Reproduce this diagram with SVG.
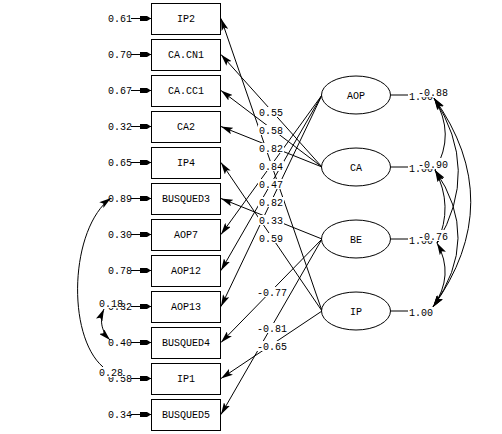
<svg xmlns="http://www.w3.org/2000/svg" width="502" height="434" viewBox="0 0 502 434">
<style>
text{font-family:"Liberation Mono","DejaVu Sans Mono",monospace;font-size:10px;fill:#000}
.box{fill:#fff;stroke:#000;stroke-width:1}
.ell{fill:#fff;stroke:#000;stroke-width:1}
.ln{fill:none;stroke:#000;stroke-width:1}
.ld{fill:none;stroke:#000;stroke-width:1;marker-end:url(#ah)}
.cv{fill:none;stroke:#000;stroke-width:1;marker-start:url(#ah);marker-end:url(#ah)}
.er{fill:none;stroke:#000;stroke-width:1;marker-end:url(#eh)}
.bg{fill:#fff}
.mid{text-anchor:middle}
</style>
<defs>
<marker id="ah" viewBox="0 0 12 7" refX="12" refY="3.5" markerWidth="12" markerHeight="7" markerUnits="userSpaceOnUse" orient="auto-start-reverse">
<path d="M0,0 L12,3.5 L0,7 L2.5,3.5 z" fill="#000"/>
</marker>
<marker id="eh" viewBox="0 0 11 6" refX="11" refY="3" markerWidth="11" markerHeight="6" markerUnits="userSpaceOnUse" orient="auto">
<path d="M0,0.5 L7,0.5 L11,3 L7,5.5 L0,5.5 z" fill="#000"/>
</marker>
</defs>
<rect width="502" height="434" fill="#fff"/>

<g id="connectors">
<path class="ld" d="M322,311 L221,18.5"/>
<path class="ld" d="M322,311 L221,162.5"/>
<path class="ld" d="M322,311 L221,378.5"/>
<path class="ld" d="M322,167 L221,54.5"/>
<path class="ld" d="M322,167 L221,90.5"/>
<path class="ld" d="M322,167 L221,126.5"/>
<path class="ld" d="M322,95 L221,234.5"/>
<path class="ld" d="M322,95 L221,270.5"/>
<path class="ld" d="M322,95 L221,306.5"/>
<path class="ld" d="M322,239 L221,198.5"/>
<path class="ld" d="M322,239 L221,342.5"/>
<path class="ld" d="M322,239 L221,414.5"/>
<path class="er" d="M131,18.5 L151,18.5"/>
<path class="er" d="M131,54.5 L151,54.5"/>
<path class="er" d="M131,90.5 L151,90.5"/>
<path class="er" d="M131,126.5 L151,126.5"/>
<path class="er" d="M131,162.5 L151,162.5"/>
<path class="er" d="M131,198.5 L151,198.5"/>
<path class="er" d="M131,234.5 L151,234.5"/>
<path class="er" d="M131,270.5 L151,270.5"/>
<path class="er" d="M131,306.5 L151,306.5"/>
<path class="er" d="M131,342.5 L151,342.5"/>
<path class="er" d="M131,378.5 L151,378.5"/>
<path class="er" d="M131,414.5 L151,414.5"/>
<path class="ln" d="M391,95 L408,95"/>
<path class="ln" d="M391,167 L408,167"/>
<path class="ln" d="M391,239 L408,239"/>
<path class="ln" d="M391,311 L408,311"/>
<path class="cv" d="M434,98 Q456,134 435,170"/>
<path class="cv" d="M434,98 Q481,170 437,243"/>
<path class="cv" d="M434,98 Q508,202 433,307"/>
<path class="cv" d="M435,170 Q454,206 437,243"/>
<path class="cv" d="M435,170 Q482,238 433,307"/>
<path class="cv" d="M437,243 Q455,275 433,307"/>
<path class="ln" d="M111,198 C70,228 66,335 103,367" marker-start="url(#ah)"/>
<path class="cv" d="M104,309 C100,318 100,330 110,340"/>
</g>

<g id="loading-labels">
<rect class="bg" x="258" y="107" width="26" height="10"/><text x="259" y="115.5">0.55</text>
<rect class="bg" x="258" y="125" width="26" height="10"/><text x="259" y="133.5">0.58</text>
<rect class="bg" x="258" y="143" width="26" height="10"/><text x="259" y="151.5">0.82</text>
<rect class="bg" x="258" y="161" width="26" height="10"/><text x="259" y="169.5">0.84</text>
<rect class="bg" x="258" y="179" width="26" height="10"/><text x="259" y="187.5">0.47</text>
<rect class="bg" x="258" y="197" width="26" height="10"/><text x="259" y="205.5">0.82</text>
<rect class="bg" x="258" y="215" width="26" height="10"/><text x="259" y="223.5">0.33</text>
<rect class="bg" x="258" y="233" width="26" height="10"/><text x="259" y="241.5">0.59</text>
<rect class="bg" x="256" y="287" width="32" height="10"/><text x="257" y="295.5">-0.77</text>
<rect class="bg" x="256" y="323" width="32" height="10"/><text x="257" y="331.5">-0.81</text>
<rect class="bg" x="256" y="341" width="32" height="10"/><text x="257" y="349.5">-0.65</text>
</g>

<g id="IP2"><rect class="box" x="151.5" y="3.5" width="69" height="31"/><text class="mid" x="186" y="22">IP2</text><text x="108" y="22">0.61</text></g>
<g id="CA.CN1"><rect class="box" x="151.5" y="39.5" width="69" height="31"/><text class="mid" x="186" y="58">CA.CN1</text><text x="108" y="58">0.70</text></g>
<g id="CA.CC1"><rect class="box" x="151.5" y="75.5" width="69" height="31"/><text class="mid" x="186" y="94">CA.CC1</text><text x="108" y="94">0.67</text></g>
<g id="CA2"><rect class="box" x="151.5" y="111.5" width="69" height="31"/><text class="mid" x="186" y="130">CA2</text><text x="108" y="130">0.32</text></g>
<g id="IP4"><rect class="box" x="151.5" y="147.5" width="69" height="31"/><text class="mid" x="186" y="166">IP4</text><text x="108" y="166">0.65</text></g>
<g id="BUSQUED3"><rect class="box" x="151.5" y="183.5" width="69" height="31"/><text class="mid" x="186" y="202">BUSQUED3</text><text x="108" y="202">0.89</text></g>
<g id="AOP7"><rect class="box" x="151.5" y="219.5" width="69" height="31"/><text class="mid" x="186" y="238">AOP7</text><text x="108" y="238">0.30</text></g>
<g id="AOP12"><rect class="box" x="151.5" y="255.5" width="69" height="31"/><text class="mid" x="186" y="274">AOP12</text><text x="108" y="274">0.78</text></g>
<g id="AOP13"><rect class="box" x="151.5" y="291.5" width="69" height="31"/><text class="mid" x="186" y="310">AOP13</text><text x="108" y="310">0.32</text></g>
<g id="BUSQUED4"><rect class="box" x="151.5" y="327.5" width="69" height="31"/><text class="mid" x="186" y="346">BUSQUED4</text><text x="108" y="346">0.40</text></g>
<g id="IP1"><rect class="box" x="151.5" y="363.5" width="69" height="31"/><text class="mid" x="186" y="382">IP1</text><text x="108" y="382">0.58</text></g>
<g id="BUSQUED5"><rect class="box" x="151.5" y="399.5" width="69" height="31"/><text class="mid" x="186" y="418">BUSQUED5</text><text x="108" y="418">0.34</text></g>

<g id="AOP"><ellipse class="ell" cx="356" cy="95" rx="34.5" ry="19"/><text class="mid" x="356" y="98.5">AOP</text><text x="409" y="99.5">1.00</text></g>
<g id="CA"><ellipse class="ell" cx="356" cy="167" rx="34.5" ry="19"/><text class="mid" x="356" y="170.5">CA</text><text x="409" y="171.5">1.00</text></g>
<g id="BE"><ellipse class="ell" cx="356" cy="239" rx="34.5" ry="19"/><text class="mid" x="356" y="242.5">BE</text><text x="409" y="243.5">1.00</text></g>
<g id="IP"><ellipse class="ell" cx="356" cy="311" rx="34.5" ry="19"/><text class="mid" x="356" y="314.5">IP</text><text x="409" y="315.5">1.00</text></g>

<g id="covariance-labels">
<rect class="bg" x="415" y="86" width="33" height="11"/><text x="418" y="95.5">-0.88</text>
<rect class="bg" x="415" y="158" width="33" height="11"/><text x="418" y="167.5">-0.90</text>
<rect class="bg" x="415" y="230" width="33" height="11"/><text x="418" y="239.5">-0.76</text>
<rect class="bg" x="98" y="298" width="19" height="10"/><text x="99" y="307">0.18</text>
<rect class="bg" x="98" y="367" width="25" height="10"/><text x="99" y="376">0.28</text>
</g>
</svg>
